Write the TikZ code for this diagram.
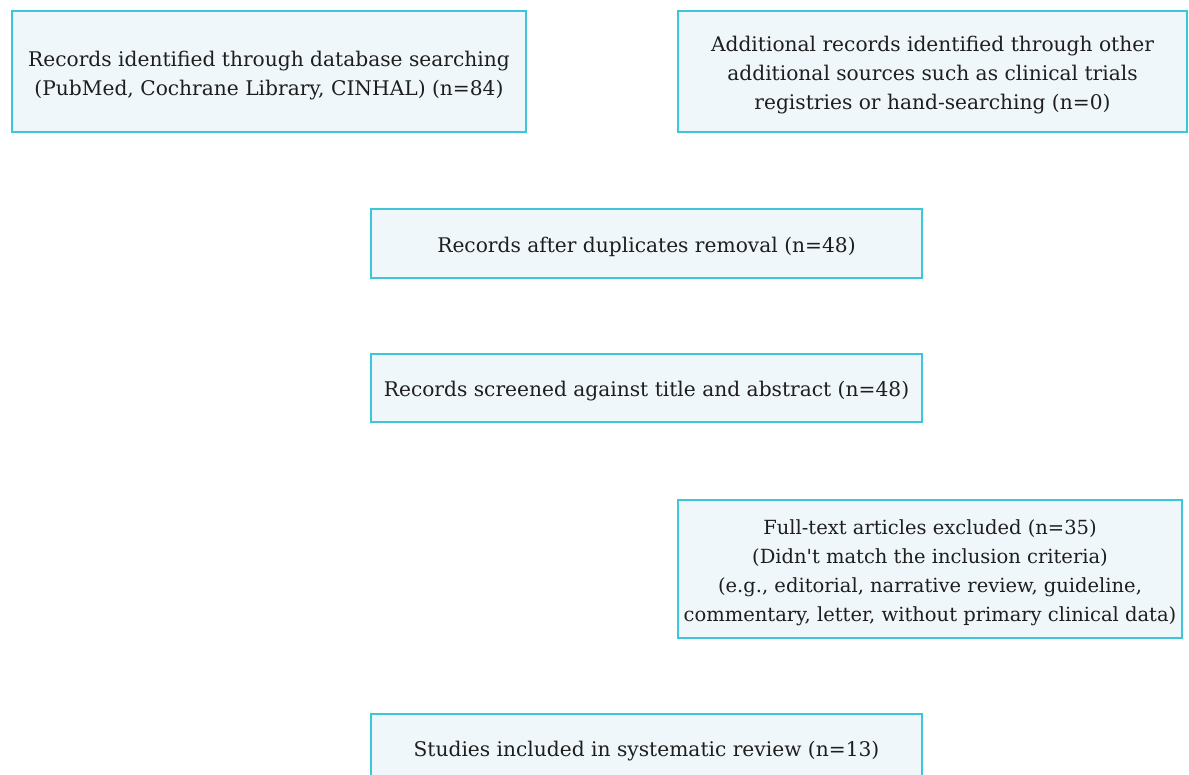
\documentclass[tikz,border=0pt]{standalone}
\usepackage{fontspec}
\setmainfont{DejaVu Serif}
\newfontfamily\straightfont{DejaVu Serif}
\definecolor{boxfill}{RGB}{240,247,250}
\definecolor{boxline}{RGB}{60,198,218}
\definecolor{ink}{RGB}{30,30,30}
\begin{document}
\begin{tikzpicture}[x=1pt,y=-1pt,
  flowbox/.style={draw=boxline,fill=boxfill,line width=1.2pt,inner sep=0pt},
  boxtext/.style={inner sep=0pt,align=center,font=\fontsize{20.2}{29}\selectfont,text=ink}]
\useasboundingbox (0,0) rectangle (1189,774);
\clip (0,0) rectangle (1189,774);
\node[flowbox,minimum width=514,minimum height=121] (db) at (269,71.5) {};
\node[boxtext] (dbt) at ([yshift=-4pt]db.center)
  {Records identified through database searching\\(PubMed, Cochrane Library, CINHAL) (n=84)};
\node[flowbox,minimum width=509,minimum height=121] (other) at (932.5,71.5) {};
\node[boxtext] (othert) at ([yshift=-4pt]other.center)
  {Additional records identified through other\\additional sources such as clinical trials\\registries or hand-searching (n=0)};
\node[flowbox,minimum width=551,minimum height=69] (dup) at (646.5,243.5) {};
\node[boxtext] (dupt) at ([yshift=-3pt]dup.center)
  {Records after duplicates removal (n=48)};
\node[flowbox,minimum width=551,minimum height=68] (screen) at (646.5,388) {};
\node[boxtext] (screent) at ([yshift=-3pt]screen.center)
  {Records screened against title and abstract (n=48)};
\node[flowbox,minimum width=504,minimum height=138] (excl) at (930,569) {};
\node[boxtext,font=\fontsize{19.5}{29}\selectfont] (exclt) at ([yshift=-4pt]excl.center)
  {Full-text articles excluded (n=35)\\(Didn{\straightfont'}t match the inclusion criteria)\\(e.g., editorial, narrative review, guideline,\\commentary, letter, without primary clinical data)};
\node[flowbox,minimum width=551,minimum height=69] (incl) at (646.5,748.5) {};
\node[boxtext] (inclt) at ([yshift=-3pt]incl.center)
  {Studies included in systematic review (n=13)};
\end{tikzpicture}
\end{document}
